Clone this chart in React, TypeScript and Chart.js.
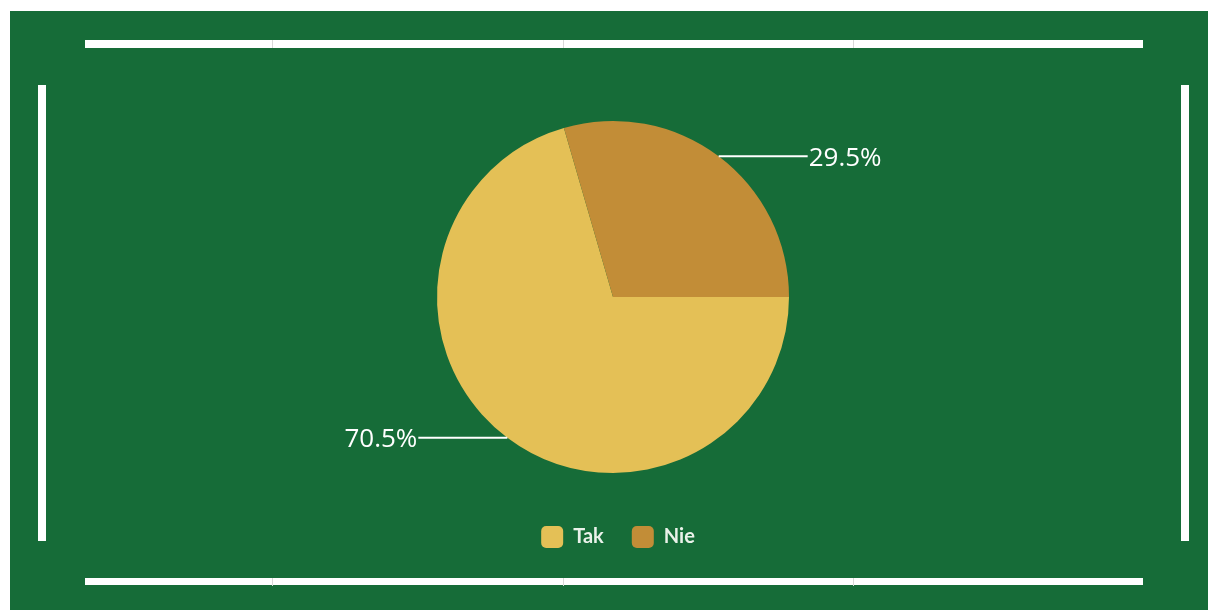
import React, { useEffect, useRef } from "react";
import { Chart, registerables } from "chart.js";

Chart.register(...registerables);

const categories = ["Tak", "Nie"];
const shares = [70.5, 29.5];
const sliceColors = ["#E4C056", "#C28D37"];
const valueLabels = ["70.5%", "29.5%"];

const GREEN = "#166C38";

const leaderLabels = {
  id: "leaderLabels",
  afterDatasetsDraw(chart: any) {
    const ctx = chart.ctx;
    const meta = chart.getDatasetMeta(0);
    ctx.save();
    meta.data.forEach((arc: any, i: number) => {
      const { x, y, startAngle, endAngle, outerRadius } = arc.getProps(
        ["x", "y", "startAngle", "endAngle", "outerRadius"],
        true
      );
      const mid = (startAngle + endAngle) / 2;
      const px = x + Math.cos(mid) * outerRadius;
      const py = y + Math.sin(mid) * outerRadius;
      const right = Math.cos(mid) >= 0;
      const len = 89;
      const ex = right ? px + len : px - len;
      ctx.strokeStyle = "#ffffff";
      ctx.lineWidth = 2;
      ctx.beginPath();
      ctx.moveTo(px, py);
      ctx.lineTo(ex, py);
      ctx.stroke();
      ctx.fillStyle = "#ffffff";
      ctx.font = "26px 'Open Sans'";
      ctx.textBaseline = "middle";
      ctx.textAlign = right ? "left" : "right";
      ctx.fillText(valueLabels[i], right ? ex + 1 : ex - 1, py + 2);
    });
    ctx.restore();
  },
};

const legendShift = {
  id: "legendShift",
  afterLayout(chart: any) {
    if (chart.legend) {
      chart.legend.left += 5;
      chart.legend.right += 5;
    }
  },
};

export default function App() {
  const canvasRef = useRef<HTMLCanvasElement | null>(null);

  useEffect(() => {
    if (!canvasRef.current) return;
    const chart = new Chart(canvasRef.current, {
      type: "pie",
      data: {
        labels: categories,
        datasets: [
          {
            data: shares,
            backgroundColor: sliceColors,
            borderWidth: 0,
            radius: 176,
          },
        ],
      },
      options: {
        animation: false,
        responsive: true,
        maintainAspectRatio: false,
        rotation: 90,
        layout: { padding: { top: 85, bottom: 52, left: 8, right: 0 } },
        plugins: {
          tooltip: { enabled: false },
          legend: {
            display: true,
            position: "bottom",
            labels: {
              color: "#EAF2EA",
              boxWidth: 22,
              boxHeight: 22,
              useBorderRadius: true,
              borderRadius: 5,
              padding: 28,
              font: { family: "Lato", size: 20, weight: "bold" },
            },
          },
        },
      },
      plugins: [leaderLabels, legendShift],
    });
    return () => chart.destroy();
  }, []);

  const bar = (style: React.CSSProperties) => (
    <div style={{ position: "absolute", background: "#ffffff", ...style }} />
  );
  const tick = (left: number, top: number) => (
    <div
      style={{
        position: "absolute",
        left,
        top,
        width: 1,
        height: 8,
        background: "#d8d8d8",
      }}
    />
  );

  return (
    <div
      style={{
        position: "absolute",
        left: 0,
        top: 0,
        width: 1208,
        height: 610,
        background: "#ffffff",
        overflow: "hidden",
      }}
    >
      <div
        style={{
          position: "absolute",
          left: 10,
          top: 11,
          width: 1198,
          height: 599,
          background: GREEN,
        }}
      >
        <canvas ref={canvasRef} />
      </div>
      {bar({ left: 85, top: 40, width: 1058, height: 8 })}
      {bar({ left: 85, top: 578, width: 1058, height: 7 })}
      {bar({ left: 38, top: 85, width: 8, height: 456 })}
      {bar({ left: 1181, top: 85, width: 8, height: 456 })}
      {tick(272, 40)}
      {tick(563, 40)}
      {tick(853, 40)}
      {tick(272, 578)}
      {tick(563, 578)}
      {tick(853, 578)}
    </div>
  );
}
